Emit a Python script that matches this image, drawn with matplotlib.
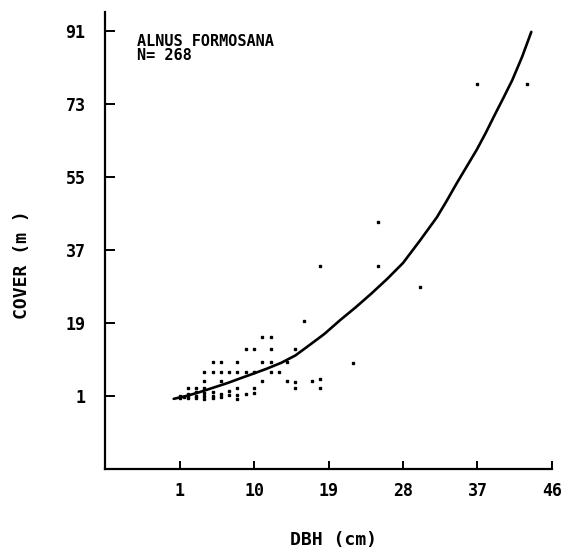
import matplotlib
matplotlib.use("Agg")
import matplotlib.pyplot as plt

# ---- data ----
x_ticks = [1, 10, 19, 28, 37, 46]
y_ticks = [1, 19, 37, 55, 73, 91]
x_ticklabels = ["1", "10", "19", "28", "37", "46"]
y_ticklabels = ["1", "19", "37", "55", "73", "91"]

curve_dbh = [0.3, 2.0, 3.5, 5.0, 6.8, 8.4, 9.5, 11.5, 13.3, 15.0, 16.4, 18.5, 20.4, 22.3,
             24.2, 26.1, 28.0, 30.0, 32.1, 33.3, 34.5, 35.7, 36.9, 38.0, 39.0, 40.1, 41.2,
             42.4, 43.5]
curve_cover = [0.3, 1.1, 2.0, 3.0, 4.2, 5.4, 6.2, 7.7, 9.2, 11.0, 13.1, 16.3, 19.7, 22.9,
               26.3, 29.9, 33.8, 39.2, 45.1, 49.2, 53.5, 57.6, 61.7, 65.9, 70.0, 74.4, 78.9,
               84.7, 90.8]

pts_dbh = [37, 43, 25, 18, 25, 30, 16,
           11, 12,
           9, 10, 12, 15,
           5, 6, 8, 11, 12, 14, 22,
           4, 5, 6, 7, 8, 9, 10, 12, 13,
           4, 6, 11, 14, 15, 17, 18,
           2, 3, 4, 8, 10, 15, 18,
           1, 1, 2, 2, 2, 3, 3, 3, 4, 4, 4, 5, 5, 5, 6, 6, 7, 7, 8, 8, 10, 1.5, 9]
pts_cover = [78, 78, 44, 33, 33, 28, 19.5,
             15.5, 15.5,
             12.6, 12.6, 12.6, 12.6,
             9.4, 9.4, 9.4, 9.4, 9.4, 9.4, 9.1,
             6.9, 6.9, 6.9, 6.9, 6.9, 6.9, 6.9, 6.9, 6.9,
             4.7, 4.7, 4.7, 4.7, 4.5, 4.7, 5.2,
             3.0, 3.0, 3.0, 3.0, 3.0, 3.0, 3.0,
             1.0, 0.5, 1.0, 1.5, 0.5, 1.0, 2.0, 0.5, 1.0, 1.8, 0.3, 1.0, 2.0, 0.5, 1.5, 0.8, 2.3, 1.2, 1.2, 0.2, 1.8, 0.8, 1.5]

species = "ALNUS FORMOSANA"
n_text = "N= 268"
x_label = "DBH (cm)"
y_label = "COVER (m )"

FONT = dict(family="DejaVu Sans Mono", weight="bold")

fig = plt.figure(figsize=(5.68, 5.57), dpi=100)
ax = fig.add_axes([105 / 568, 1 - 469 / 557, (552 - 105) / 568, (469 - 12) / 557])

ax.plot(curve_dbh, curve_cover, color="black", lw=1.9, solid_capstyle="round",
        solid_joinstyle="round")
ax.plot(pts_dbh, pts_cover, linestyle="none", marker="s", markersize=1.8, color="black")

ax.set_xlim(-8, 46)
ax.set_ylim(-17, 95.7)
ax.set_xticks(x_ticks)
ax.set_xticklabels(x_ticklabels, fontsize=12, **FONT)
ax.set_yticks(y_ticks)
ax.set_yticklabels(y_ticklabels, fontsize=12, **FONT)

for s in ["top", "right"]:
    ax.spines[s].set_visible(False)
for s in ["left", "bottom"]:
    ax.spines[s].set_linewidth(1.6)

ax.tick_params(axis="y", direction="in", length=7, width=1.4, pad=14)
ax.tick_params(axis="x", direction="in", length=6, width=1.4, pad=9)

ax.text((137 - 105) / 447, (469 - 46) / 457, species, transform=ax.transAxes,
        fontsize=11, va="baseline", ha="left", **FONT)
ax.text((137 - 105) / 447, (469 - 60) / 457, n_text, transform=ax.transAxes,
        fontsize=11, va="baseline", ha="left", **FONT)

fig.text(333 / 568, 1 - 540 / 557, x_label, fontsize=13, ha="center", va="center", **FONT)
fig.text(22 / 568, 1 - 265 / 557, y_label, fontsize=13, ha="center", va="center",
         rotation=90, **FONT)

fig.savefig("out.png", dpi=100)
